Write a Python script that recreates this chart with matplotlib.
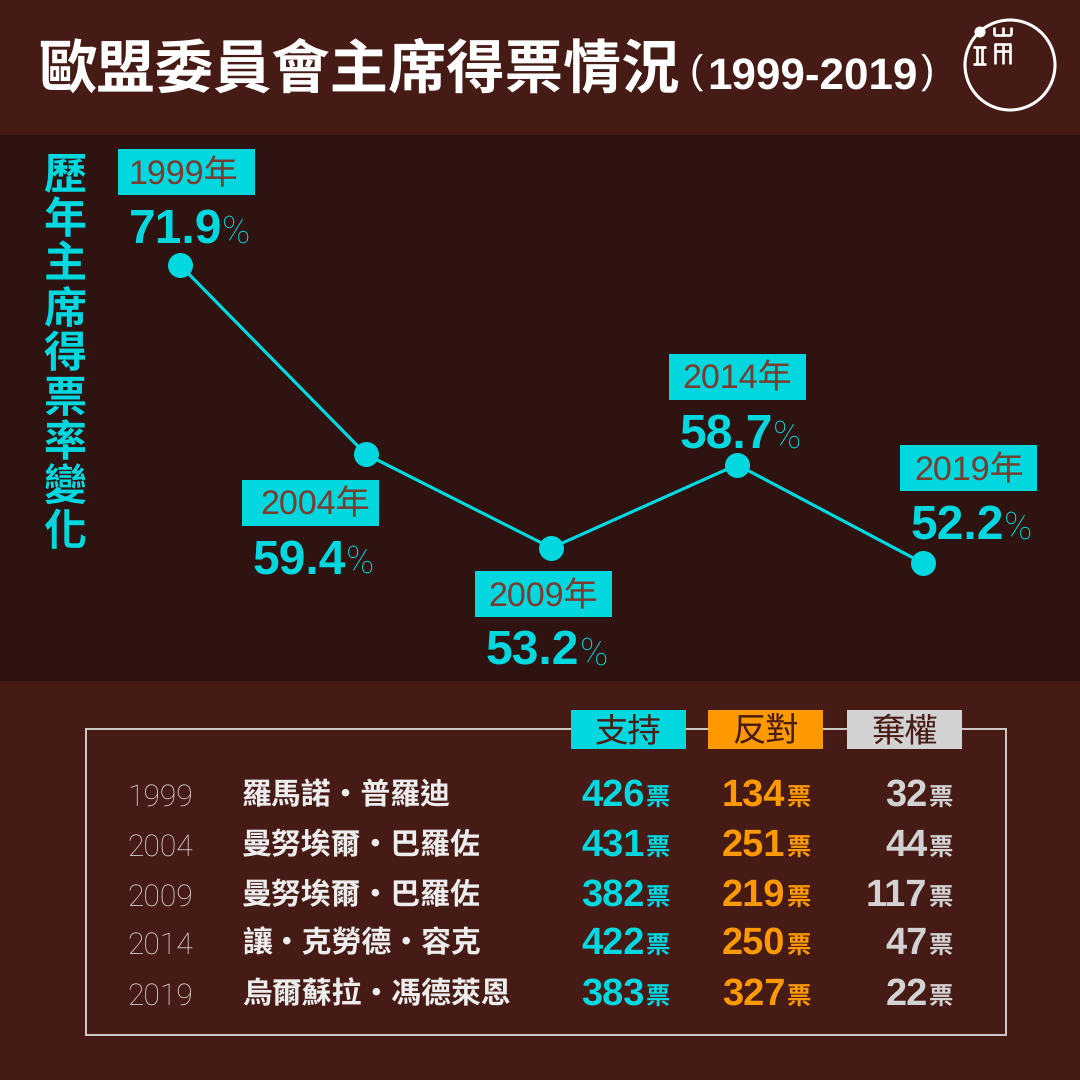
#!/usr/bin/env python3
"""EU Commission president vote results, 1999-2019."""

import matplotlib

matplotlib.use("Agg")
import matplotlib.pyplot as plt
from matplotlib.patches import Circle, Rectangle

plt.rcParams["font.family"] = ["Liberation Sans", "Noto Sans CJK TC", "DejaVu Sans"]
plt.rcParams["text.hinting"] = "none"
plt.rcParams["text.hinting_factor"] = 1
LIGHT_FONT = ["Roboto", "Liberation Sans", "DejaVu Sans"]

BG = "#461b16"
BAND = "#2e1310"
CYAN = "#00d7df"
ORANGE = "#ff9900"
GRAY = "#d2d2d2"
WHITE = "#ffffff"
LABEL_BROWN = "#7b3b2d"
HEADER_BROWN = "#4a1c16"

years = [1999, 2004, 2009, 2014, 2019]
share = [71.9, 59.4, 53.2, 58.7, 52.2]
presidents = [
    "羅馬諾・普羅迪",
    "曼努埃爾・巴羅佐",
    "曼努埃爾・巴羅佐",
    "讓・克勞德・容克",
    "烏爾蘇拉・馮德萊恩",
]
votes_for = [426, 431, 382, 422, 383]
votes_against = [134, 251, 219, 250, 327]
votes_abstain = [32, 44, 117, 47, 22]
headers = ["支持", "反對", "棄權"]
title = "歐盟委員會主席得票情況"
side_title = "歷年主席得票率變化"

# label box centre relative to its point, in pixels (y down)
label_offsets = [(6.5, -93), (-55.5, 48.5), (-7.5, 46), (0, -88), (46, -95)]
label_text_pads = [10, 19, 13, 14, 14]
row_baselines = [806, 856, 906, 954, 1005]
header_lefts = [571, 708, 847]
number_rights = [643, 784, 926]

figure = plt.figure(figsize=(10.8, 10.8), dpi=100, facecolor=BG)

# page axes in image pixels, for the bands, the table and the logo
page = figure.add_axes([0, 0, 1, 1], zorder=0)
page.set_xlim(0, 1080)
page.set_ylim(1080, 0)
page.axis("off")

page.add_patch(Rectangle((0, 135), 1080, 546, facecolor=BAND, edgecolor="none"))

# header
page.text(38, 88, title, color=WHITE, fontsize=42, fontweight=900, va="baseline")
page.text(707, 90, "1999-2019", color=WHITE, fontsize=31.5, fontweight="bold", va="baseline")
page.text(696, 83.5, "(", color=WHITE, fontsize=29, va="baseline", ha="center")
page.text(927.5, 83.5, ")", color=WHITE, fontsize=29, va="baseline", ha="center")

# logo
page.add_patch(Circle((1010, 65), 45, facecolor="none", edgecolor=WHITE, linewidth=2.2))
page.add_patch(Circle((980, 32), 5.5, facecolor=WHITE, edgecolor="none"))
logo_strokes = [
    ((973, 986), (47, 47)), ((973, 986), (64, 64)), ((977, 977), (47, 64)), ((982, 982), (47, 64)),
    ((994, 1011), (35, 35)), ((994, 994), (27, 35)), ((1002.5, 1002.5), (27, 35)), ((1011, 1011), (27, 35)),
    ((994, 1011), (44, 44)), ((995, 995), (44, 64)), ((1002.5, 1002.5), (44, 64)), ((1010, 1010), (44, 64)),
    ((995, 1010), (51, 51)),
]
for stroke_x, stroke_y in logo_strokes:
    page.plot(stroke_x, stroke_y, color=WHITE, linewidth=1.9, solid_capstyle="butt")

# vertical title
for char_index, char in enumerate(side_title):
    page.text(65, 177.5 + char_index * 44.6, char, color=CYAN, fontsize=31, fontweight=900,
              ha="center", va="center")

# line chart, x and y scales fitted so the axes fill the dark band
chart = figure.add_axes([0, (1080 - 680) / 1080, 1, 545 / 1080], zorder=1)
chart.patch.set_alpha(0)
chart.axis("off")
chart.set_xlim(1994.155, 2023.23)
chart.set_ylim(44.47, 80.49)
chart.plot(years, share, color=CYAN, linewidth=2.3, marker="o", markersize=18, markeredgewidth=0)

to_page = chart.transData + page.transData.inverted()
for year, value, (offset_x, offset_y), pad in zip(years, share, label_offsets, label_text_pads):
    point_x, point_y = to_page.transform((year, value))
    box_x = point_x + offset_x
    box_y = point_y + offset_y
    page.add_patch(Rectangle((box_x - 68.5, box_y - 23), 137, 46, facecolor=CYAN, edgecolor="none"))
    page.text(box_x - 68.5 + pad, box_y + 12, f"{year}年", color=LABEL_BROWN, fontsize=24.5, va="baseline")
    page.text(box_x + 35.5, box_y + 70.5, f"{value}", color=CYAN, fontsize=34.5, fontweight="bold",
              ha="right", va="baseline")
    page.text(box_x + 35.5, box_y + 70.5, "%", color=CYAN, fontsize=27, family=LIGHT_FONT, fontweight="light",
              va="baseline")

# table frame, header boxes sit on top of the top edge
page.add_patch(Rectangle((86, 729), 920, 306, facecolor="none", edgecolor="#d0cdcb", linewidth=1.4))
for header, left, color in zip(headers, header_lefts, [CYAN, ORANGE, GRAY]):
    page.add_patch(Rectangle((left, 710), 115, 39, facecolor=color, edgecolor="none", zorder=3))
    page.text(left + 57.5, 741, header, color=HEADER_BROWN, fontsize=24, ha="center", va="baseline", zorder=4)

columns = [(votes_for, CYAN), (votes_against, ORANGE), (votes_abstain, GRAY)]
for row, baseline in enumerate(row_baselines):
    page.text(127, baseline, str(years[row]), color="#e6e0dd", fontsize=21.5, family=LIGHT_FONT,
              fontweight="light", va="baseline")
    page.text(242, baseline - 2, presidents[row], color="#ededed", fontsize=21.5, fontweight=900, va="baseline")
    for (values, color), right in zip(columns, number_rights):
        page.text(right + 1.5, baseline, str(values[row]), color=color, fontsize=27, fontweight="bold",
                  ha="right", va="baseline")
        page.text(right + 3, baseline - 0.5, "票", color=color, fontsize=17.5, fontweight=900, va="baseline")

figure.savefig("out.png", dpi=100, facecolor=BG)
plt.close(figure)
